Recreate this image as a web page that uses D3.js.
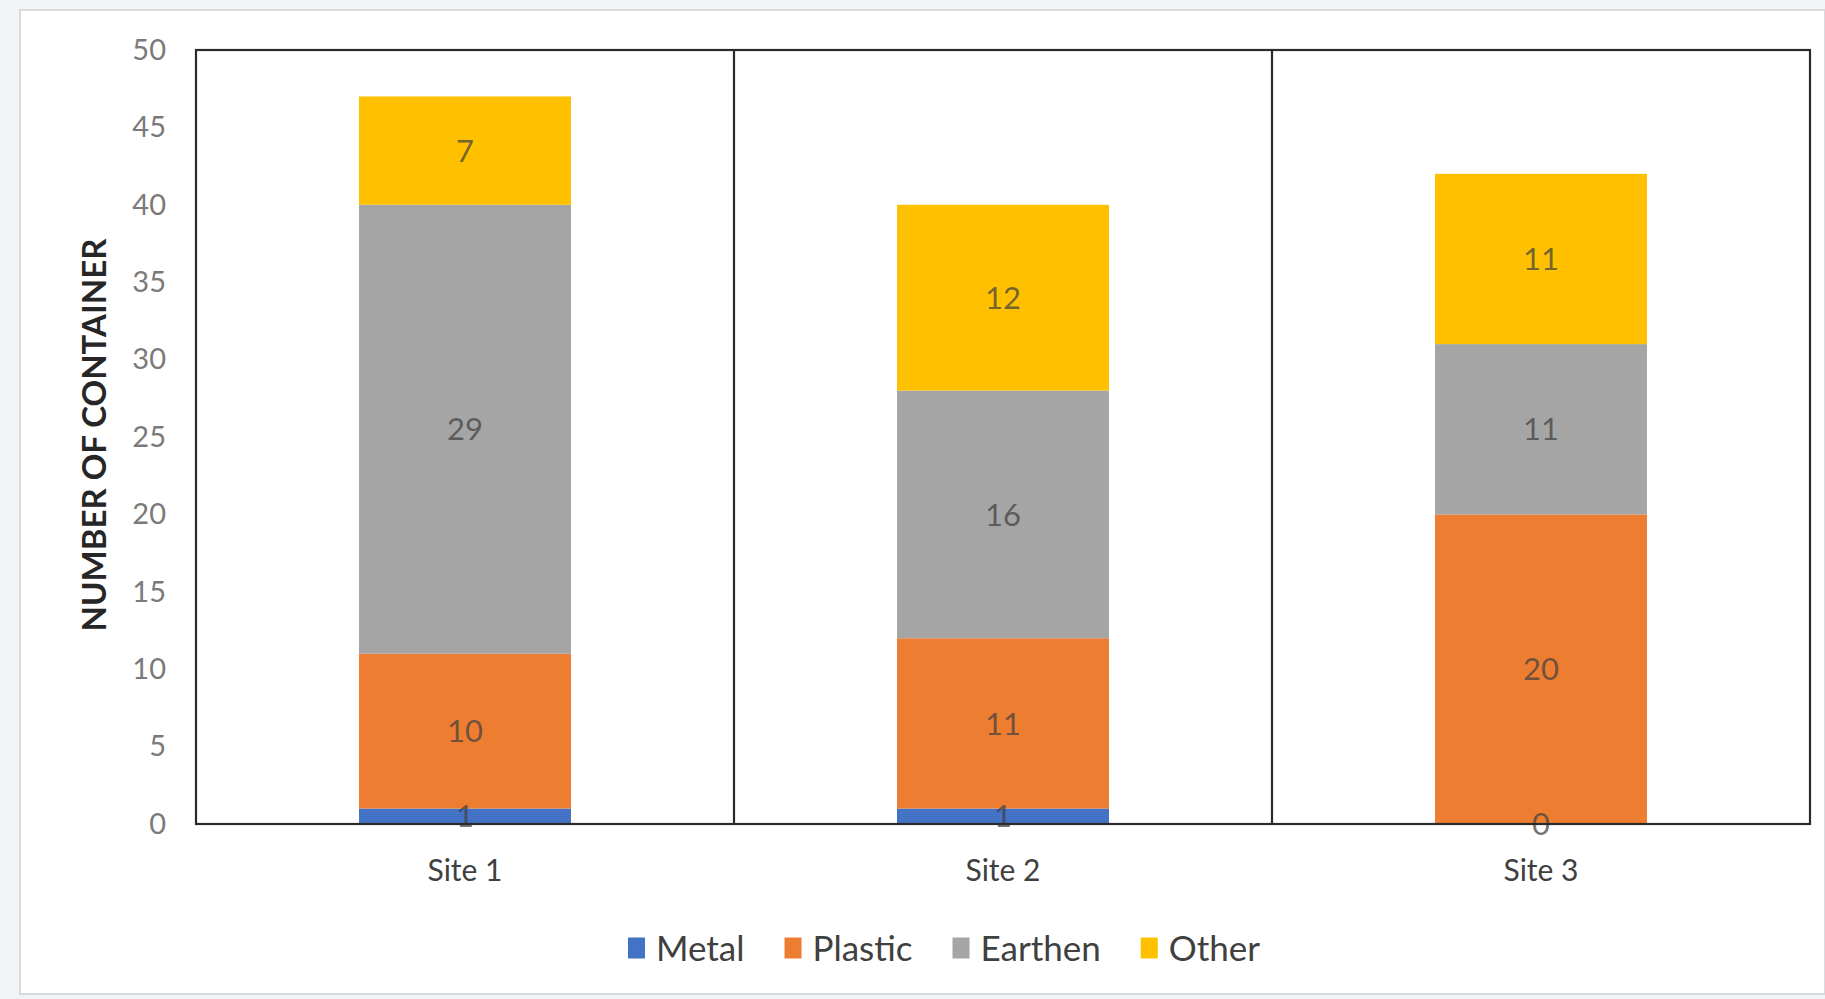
<!DOCTYPE html>
<html>
<head>
<meta charset="utf-8">
<script src="https://cdn.jsdelivr.net/npm/d3@7"></script>
<style>
  html, body { margin: 0; padding: 0; background: #ffffff; }
  svg { display: block; }
</style>
</head>
<body>
<svg id="chart" width="1825" height="999"></svg>
<script>
// ---- data ----
const sites = ["Site 1", "Site 2", "Site 3"];
const materials = ["Metal", "Plastic", "Earthen", "Other"];
const metal   = [1, 1, 0];
const plastic = [10, 11, 20];
const earthen = [29, 16, 11];
const other   = [7, 12, 11];
const yTicks  = [0, 5, 10, 15, 20, 25, 30, 35, 40, 45, 50];
const colors  = ["#4472C4", "#ED7D31", "#A5A5A5", "#FFC000"];
const yTitle  = "NUMBER OF CONTAINER";

// ---- build table ----
const rows = sites.map((s, i) => ({
  site: s, Metal: metal[i], Plastic: plastic[i], Earthen: earthen[i], Other: other[i]
}));
const stacked = d3.stack().keys(materials)(rows);

const svg = d3.select("#chart");
const plot = { left: 196, top: 50, right: 1810, bottom: 824 };
const FONT = "Lato, 'Open Sans', sans-serif";

// page background strip and light frame
svg.append("rect").attr("x", 0).attr("y", 0).attr("width", 1825).attr("height", 999)
  .attr("fill", "#f1f3f4");
svg.append("rect")
  .attr("x", 20).attr("y", 10).attr("width", 1805).attr("height", 984)
  .attr("fill", "#ffffff").attr("stroke", "#d8dbdd").attr("stroke-width", 2);

const x = d3.scaleBand().domain(sites).range([plot.left, plot.right]).padding(0);
const y = d3.scaleLinear().domain([0, 50]).range([plot.bottom, plot.top]);
const color = d3.scaleOrdinal().domain(materials).range(colors);
const barW = x.bandwidth() * 0.394;
const barX = d => x(d.data.site) + (x.bandwidth() - barW) / 2;

// bars
const layers = svg.append("g").selectAll("g")
  .data(stacked).join("g")
  .attr("fill", d => color(d.key));

layers.selectAll("rect")
  .data(d => d).join("rect")
  .attr("x", barX)
  .attr("y", d => y(d[1]))
  .attr("width", barW)
  .attr("height", d => y(d[0]) - y(d[1]));

// data labels
const labelG = svg.append("g");
stacked.forEach(layer => {
  layer.forEach(d => {
    const v = d[1] - d[0];
    labelG.append("text")
      .attr("x", x(d.data.site) + x.bandwidth() / 2)
      .attr("y", (y(d[0]) + y(d[1])) / 2)
      .attr("dy", "0.36em")
      .attr("text-anchor", "middle")
      .attr("font-family", FONT)
      .attr("font-size", 31)
      .attr("fill", "#404040")
      .attr("fill-opacity", 0.72)
      .text(v);
  });
});

// plot frame + category dividers
svg.append("rect")
  .attr("x", plot.left).attr("y", plot.top)
  .attr("width", plot.right - plot.left).attr("height", plot.bottom - plot.top)
  .attr("fill", "none").attr("stroke", "#2b2b2b").attr("stroke-width", 2.2);

svg.append("g").selectAll("line")
  .data(sites.slice(1)).join("line")
  .attr("x1", d => x(d)).attr("x2", d => x(d))
  .attr("y1", plot.top).attr("y2", plot.bottom)
  .attr("stroke", "#2b2b2b").attr("stroke-width", 2.2);

// y axis
const yAxis = svg.append("g")
  .attr("transform", `translate(${plot.left},0)`)
  .call(d3.axisLeft(y).tickValues(yTicks).tickSize(0).tickPadding(30));
yAxis.select(".domain").remove();
yAxis.selectAll("text")
  .attr("font-family", FONT).attr("font-size", 29).attr("fill", "#7a7a7a");

// x axis labels
const xAxis = svg.append("g")
  .attr("transform", `translate(0,${plot.bottom})`)
  .call(d3.axisBottom(x).tickSize(0).tickPadding(36));
xAxis.select(".domain").remove();
xAxis.selectAll("text")
  .attr("font-family", FONT).attr("font-size", 30).attr("fill", "#404040");

// y title
svg.append("text")
  .attr("transform", `translate(94,${(plot.top + plot.bottom) / 2 - 2}) rotate(-90)`)
  .attr("text-anchor", "middle")
  .attr("dy", "0.36em")
  .attr("font-family", FONT).attr("font-size", 33).attr("font-weight", 700)
  .attr("fill", "#262626")
  .text(yTitle);

// legend
const legend = svg.append("g");
const swW = 17, swH = 21, gapSwText = 11, gapItem = 40, legendY = 948;
let cx = 0;
materials.forEach((m, i) => {
  const g = legend.append("g");
  g.append("rect").attr("x", 0).attr("y", -swH / 2).attr("width", swW).attr("height", swH)
    .attr("fill", colors[i]);
  const t = g.append("text").attr("x", swW + gapSwText).attr("dy", "0.36em")
    .attr("font-family", FONT).attr("font-size", 35).attr("fill", "#404040").text(m);
  const w = swW + gapSwText + t.node().getComputedTextLength();
  g.attr("transform", `translate(${cx},0)`);
  cx += w + gapItem;
});
const totalW = cx - gapItem;
legend.attr("transform", `translate(${944 - totalW / 2},${legendY})`);
</script>
</body>
</html>
